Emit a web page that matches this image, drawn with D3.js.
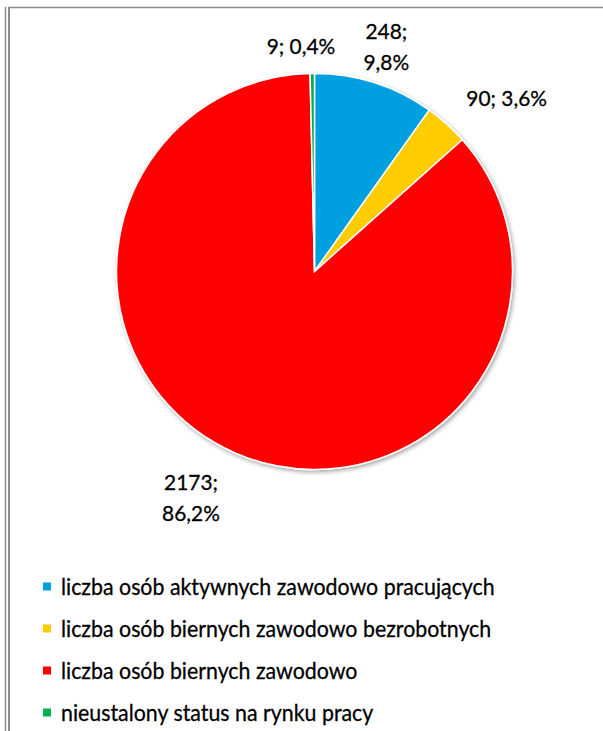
<!DOCTYPE html>
<html>
<head>
<meta charset="utf-8">
<script src="https://cdn.jsdelivr.net/npm/d3@7"></script>
<style>
  body { margin: 0; background: #fff; }
  text { font-family: Lato, "Open Sans", sans-serif; fill: #000; stroke: #000; stroke-width: 0.3px; }
</style>
</head>
<body>
<div id="chart"></div>
<script>
// data
var categories = [
  "liczba osób aktywnych zawodowo pracujących",
  "liczba osób biernych zawodowo bezrobotnych",
  "liczba osób biernych zawodowo",
  "nieustalony status na rynku pracy"
];
var values = [248, 90, 2173, 9];
var percentLabels = ["9,8%", "3,6%", "86,2%", "0,4%"];
var colors = ["#00a0e0", "#ffcc00", "#ff0000", "#00b050"];

var width = 603, height = 731;
var cx = 314.5, cy = 271.5, radius = 198;

var svg = d3.select("#chart")
  .append("svg")
    .attr("width", width)
    .attr("height", height);

// frame lines (document border)
svg.append("line").attr("x1", 5.5).attr("x2", 5.5).attr("y1", 7).attr("y2", height)
  .attr("stroke", "#8c8c8c").attr("stroke-width", 1.5);
svg.append("line").attr("x1", 9).attr("x2", 9).attr("y1", 7).attr("y2", height)
  .attr("stroke", "#8c8c8c").attr("stroke-width", 2);
svg.append("line").attr("x1", 8).attr("x2", width).attr("y1", 7.5).attr("y2", 7.5)
  .attr("stroke", "#8c8c8c").attr("stroke-width", 1.5);

var defs = svg.append("defs");
var f = defs.append("filter").attr("id", "shadow")
  .attr("x", "-10%").attr("y", "-10%").attr("width", "120%").attr("height", "120%");
f.append("feDropShadow").attr("dx", 1.5).attr("dy", 2).attr("stdDeviation", 2)
  .attr("flood-color", "#000").attr("flood-opacity", 0.35);

var pie = d3.pie().sort(null).value(function(d) { return d; });
var arcs = pie(values);
var arc = d3.arc().innerRadius(0).outerRadius(radius);

var g = svg.append("g").attr("transform", "translate(" + cx + "," + cy + ")");

g.append("g").attr("filter", "url(#shadow)")
  .selectAll("path")
  .data(arcs)
  .enter()
  .append("path")
    .attr("d", arc)
    .attr("fill", function(d, i) { return colors[i]; })
    .attr("stroke", "#fff")
    .attr("stroke-width", 1.5);

// data labels, placed outside the slices
var labelRadius = [236, 258, 257, 226];
var labelNudge = [[0, 0], [20, 19], [-21, -10], [-11, 0]];
var twoLines = [true, false, true, false];

arcs.forEach(function(d, i) {
  var a = (d.startAngle + d.endAngle) / 2;
  var x = Math.sin(a) * labelRadius[i] + labelNudge[i][0];
  var y = -Math.cos(a) * labelRadius[i] + labelNudge[i][1];
  var t = g.append("text")
    .attr("text-anchor", "middle")
    .attr("font-size", 22)
    .attr("transform", "translate(" + x + "," + y + ") scale(0.95,1)");
  if (twoLines[i]) {
    t.append("tspan").attr("x", 0).attr("y", -15.5 + 8).text(values[i] + ";");
    t.append("tspan").attr("x", 0).attr("y", 15.5 + 8).text(percentLabels[i]);
  } else {
    t.attr("x", 0).attr("y", 8).text(values[i] + "; " + percentLabels[i]);
  }
});

// legend
var legendY = d3.scalePoint().domain(categories).range([587, 713]);
var leg = svg.append("g").selectAll("g")
  .data(categories)
  .enter()
  .append("g")
    .attr("transform", function(d) { return "translate(0," + legendY(d) + ")"; });

leg.append("rect")
  .attr("x", 43).attr("y", -4.5).attr("width", 8).attr("height", 8)
  .attr("fill", function(d, i) { return colors[i]; });
leg.append("text")
  .attr("transform", "translate(61,8) scale(0.89,1)")
  .attr("font-size", 24)
  .text(function(d) { return d; });
</script>
</body>
</html>
